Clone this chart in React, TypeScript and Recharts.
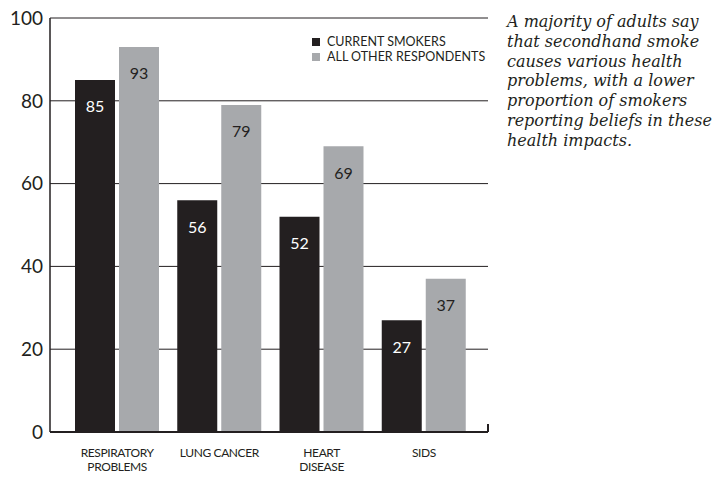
import { BarChart, Bar, XAxis, YAxis, CartesianGrid, LabelList } from 'recharts'

const CATEGORIES = ['RESPIRATORY\nPROBLEMS', 'LUNG CANCER', 'HEART\nDISEASE', 'SIDS']
const CURRENT_SMOKERS = [85, 56, 52, 27]
const ALL_OTHERS = [93, 79, 69, 37]
const Y_TICKS = [0, 20, 40, 60, 80, 100]
const NOTE_LINES = [
  'A majority of adults say',
  'that secondhand smoke',
  'causes various health',
  'problems, with a lower',
  'proportion of smokers',
  'reporting beliefs in these',
  'health impacts.',
]

const DARK = '#231f20'
const GRAY = '#a7a9ac'
const FONT = 'Lato, "Noto Sans", sans-serif'

const data = CATEGORIES.map((name, i) => ({
  name,
  smokers: CURRENT_SMOKERS[i],
  others: ALL_OTHERS[i],
}))

function CategoryTick({ x, y, payload }: any) {
  const lines = String(payload.value).split('\n')
  return (
    <text x={x} y={y + 17} textAnchor="middle" fill={DARK} fontSize={12} fontFamily={FONT} letterSpacing={-0.4}>
      {lines.map((l, i) => (
        <tspan key={i} x={x} dy={i === 0 ? 0 : 14}>{l}</tspan>
      ))}
    </text>
  )
}

function LegendBox() {
  const items = [
    { color: DARK, label: 'CURRENT SMOKERS' },
    { color: GRAY, label: 'ALL OTHER RESPONDENTS' },
  ]
  return (
    <div style={{ position: 'absolute', left: 312, top: 34, fontFamily: FONT, fontSize: 12.5, color: DARK }}>
      {items.map(it => (
        <div key={it.label} style={{ display: 'flex', alignItems: 'center', height: 15 }}>
          <span style={{ display: 'inline-block', width: 8, height: 8, background: it.color, marginRight: 7 }} />
          <span>{it.label}</span>
        </div>
      ))}
    </div>
  )
}

export default function App() {
  return (
    <div style={{ position: 'absolute', left: 0, top: 0, width: 721, height: 477, background: '#fff' }}>
      <BarChart
        width={500}
        height={477}
        data={data}
        margin={{ top: 18, right: 12, left: 0, bottom: 0 }}
        barSize={40}
        barGap={4}
      >
        <CartesianGrid horizontal vertical={false} stroke={DARK} strokeWidth={1} />
        <XAxis
          dataKey="name"
          height={45}
          padding={{ left: 16, right: 13 }}
          axisLine={{ stroke: DARK, strokeWidth: 2 }}
          tickLine={false}
          tick={<CategoryTick />}
          interval={0}
        />
        <YAxis
          width={50}
          domain={[0, 100]}
          ticks={Y_TICKS}
          axisLine={{ stroke: DARK, strokeWidth: 1.5 }}
          tickLine={false}
          tickMargin={1}
          tick={{ fill: DARK, fontSize: 19, fontFamily: FONT }}
        />
        <Bar dataKey="smokers" fill={DARK} isAnimationActive={false}>
          <LabelList dataKey="smokers" position="insideTop" offset={21} fill="#fff" fontSize={16} fontFamily={FONT} />
        </Bar>
        <Bar dataKey="others" fill={GRAY} isAnimationActive={false}>
          <LabelList dataKey="others" position="insideTop" offset={21} fill={DARK} fontSize={16} fontFamily={FONT} />
        </Bar>
      </BarChart>
      <div style={{ position: 'absolute', left: 487, top: 424, width: 1.5, height: 8, background: DARK }} />
      <LegendBox />
      <div
        style={{
          position: 'absolute',
          left: 507,
          top: 12,
          fontFamily: '"DejaVu Serif", serif',
          fontStyle: 'italic',
          fontSize: 16,
          lineHeight: '19.8px',
          color: DARK,
          whiteSpace: 'nowrap',
        }}
      >
        {NOTE_LINES.map(l => (
          <div key={l}>{l}</div>
        ))}
      </div>
    </div>
  )
}
